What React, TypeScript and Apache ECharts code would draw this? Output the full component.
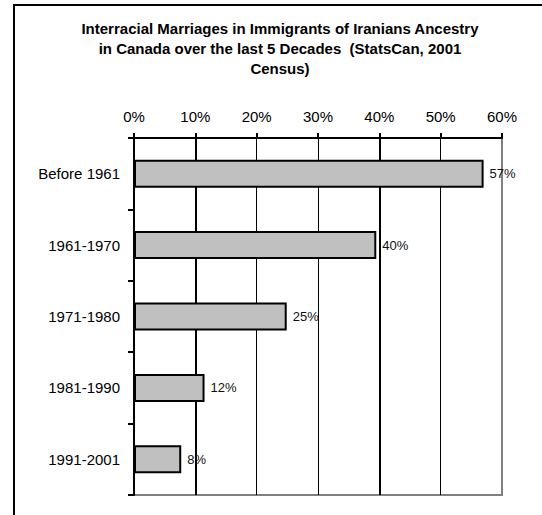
import React, { useEffect, useRef } from "react";
import * as echarts from "echarts";

const titleLines = [
  "Interracial Marriages in Immigrants of Iranians Ancestry",
  "in Canada over the last 5 Decades  (StatsCan, 2001",
  "Census)",
];
const categories = ["Before 1961", "1961-1970", "1971-1980", "1981-1990", "1991-2001"];
const values = [57, 39.5, 24.9, 11.5, 7.7];
const axisMin = 0;
const axisMax = 60;
const axisInterval = 10;
const heavyGridlines = [10, 40];

const FONT = "'Liberation Sans', Arial, Helvetica, sans-serif";

export default function App() {
  const ref = useRef<HTMLDivElement>(null);
  useEffect(() => {
    if (!ref.current) return;
    const chart = echarts.init(ref.current, undefined, { renderer: "svg" });
    chart.setOption({
      animation: false,
      backgroundColor: "#ffffff",
      textStyle: { fontFamily: FONT },
      graphic: [
        {
          type: "rect",
          shape: { x: 14, y: 5, width: 700, height: 700 },
          style: { fill: "none", stroke: "#000", lineWidth: 2 },
          silent: true,
        },
        {
          type: "text",
          x: 280,
          y: 18.5,
          style: {
            text: titleLines.join("\n"),
            fontFamily: FONT,
            fontSize: 15,
            fontWeight: "bold",
            fill: "#000",
            align: "center",
            verticalAlign: "top",
            lineHeight: 20,
          },
        },
      ],
      grid: {
        left: 134,
        right: 40,
        top: 138,
        bottom: 20,
        show: true,
        borderColor: "#808080",
        borderWidth: 2,
        backgroundColor: "transparent",
      },
      xAxis: {
        type: "value",
        position: "top",
        min: axisMin,
        max: axisMax,
        interval: axisInterval,
        axisLine: { show: true, lineStyle: { color: "#000", width: 2 } },
        axisTick: { show: true, inside: false, length: 5, lineStyle: { color: "#000", width: 2 } },
        axisLabel: {
          formatter: "{value}%",
          fontSize: 15,
          color: "#000",
          margin: 14,
          fontFamily: FONT,
        },
        splitLine: { show: true, showMaxLine: false, lineStyle: { color: "#000", width: 1 } },
      },
      yAxis: {
        type: "category",
        inverse: true,
        data: categories,
        axisLine: { show: true, lineStyle: { color: "#000", width: 2 } },
        axisTick: { show: true, inside: false, length: 6, lineStyle: { color: "#000", width: 2 } },
        axisLabel: { fontSize: 15, color: "#000", margin: 14, fontFamily: FONT },
        splitLine: { show: false },
      },
      series: [
        {
          type: "bar",
          data: values,
          barWidth: 28,
          itemStyle: { color: "#c0c0c0", borderColor: "#000", borderWidth: 2 },
          label: {
            show: true,
            position: "right",
            distance: 6,
            fontSize: 13,
            color: "#111",
            fontFamily: FONT,
            formatter: (p: any) => Math.round(p.value) + "%",
          },
          markLine: {
            silent: true,
            z: 0,
            symbol: "none",
            label: { show: false },
            lineStyle: { color: "#000", width: 2, type: "solid" },
            data: heavyGridlines.map((v) => ({ xAxis: v })),
          },
          z: 3,
        },
      ],
    });
    return () => chart.dispose();
  }, []);
  return (
    <div
      ref={ref}
      style={{ position: "fixed", left: 0, top: 0, width: 542, height: 515, background: "#fff" }}
    />
  );
}
